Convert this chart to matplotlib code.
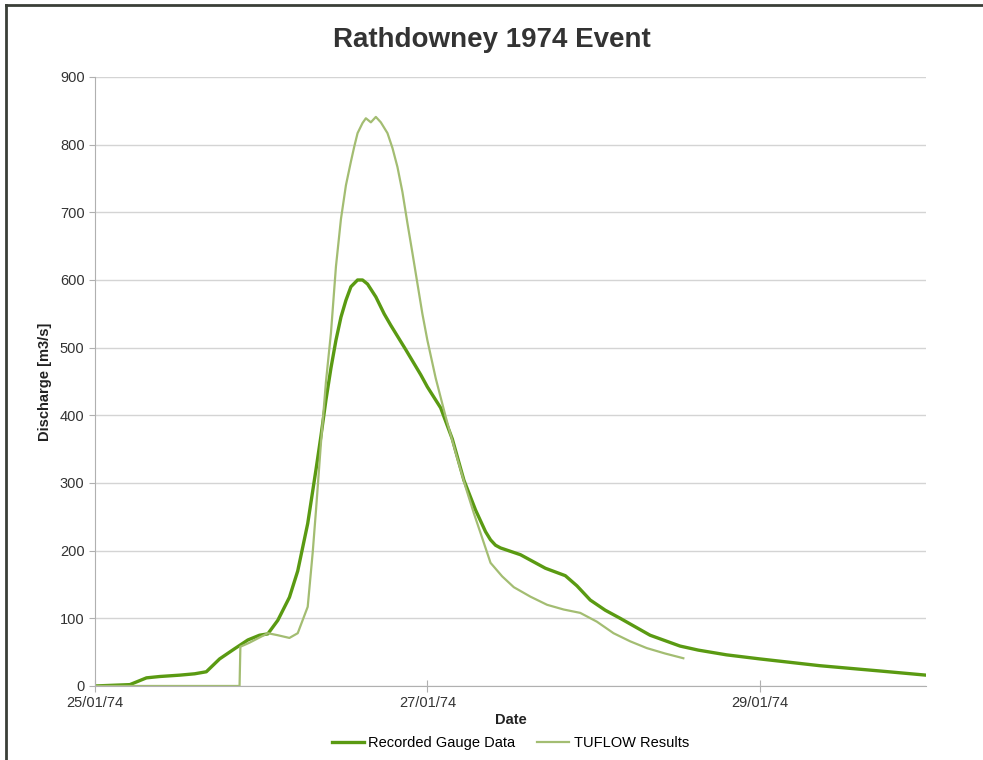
import numpy as np
import pandas as pd
import matplotlib
matplotlib.use("Agg")
import matplotlib.pyplot as plt
import matplotlib.dates as mdates
from matplotlib.lines import Line2D

plt.rcParams['font.family'] = ['Liberation Sans', 'DejaVu Sans']

# Data (days after 25/01/74 00:00, discharge m3/s)
gauge_days = [0, 0.21, 0.24, 0.31, 0.39, 0.51, 0.60, 0.67, 0.75, 0.84, 0.92, 0.99,
              1.04, 1.10, 1.17, 1.22, 1.28, 1.33, 1.36, 1.39, 1.42, 1.45, 1.48, 1.51,
              1.54, 1.58, 1.61, 1.64, 1.69, 1.74, 1.78, 1.87, 1.96, 2.00, 2.08, 2.15,
              2.22, 2.29, 2.35, 2.38, 2.41, 2.44, 2.56, 2.71, 2.83, 2.90, 2.98, 3.07,
              3.16, 3.34, 3.52, 3.63, 3.80, 4.00, 4.36, 4.73, 5.00]
gauge_q = [0, 2, 5, 12, 14, 16, 18, 21, 40, 55, 68, 75,
           77, 97, 131, 170, 240, 320, 370, 423, 470, 511, 545, 570,
           590, 600, 600, 594, 575, 550, 533, 497, 460, 442, 411, 365,
           304, 260, 228, 216, 208, 204, 194, 174, 163, 148, 127, 112,
           100, 75, 59, 53, 46, 40, 30, 22, 16]

tuflow_days = [0, 0.870, 0.875, 0.93, 1.04, 1.10, 1.17, 1.22, 1.28, 1.31, 1.33, 1.36,
               1.39, 1.42, 1.45, 1.48, 1.51, 1.54, 1.56, 1.58, 1.61, 1.63, 1.66, 1.69,
               1.72, 1.76, 1.79, 1.82, 1.85, 1.88, 1.91, 1.94, 1.97, 2.00, 2.05, 2.11,
               2.17, 2.23, 2.28, 2.32, 2.38, 2.45, 2.52, 2.62, 2.72, 2.82, 2.92, 3.02,
               3.12, 3.22, 3.32, 3.43, 3.54]
tuflow_q = [0, 0, 58, 64, 78, 75, 71, 78, 117, 197, 260, 360,
            450, 522, 620, 690, 740, 775, 797, 817, 832, 839, 833, 841,
            833, 817, 795, 767, 730, 684, 640, 595, 550, 511, 455, 398,
            345, 294, 255, 226, 182, 162, 146, 132, 120, 113, 108, 95,
            78, 66, 56, 48, 41]

start = pd.Timestamp("1974-01-25")
gauge_t = start + pd.to_timedelta(gauge_days, unit="D")
tuflow_t = start + pd.to_timedelta(tuflow_days, unit="D")

fig = plt.figure(figsize=(9.83, 7.6), dpi=100)
ax = fig.add_axes([0.0966, 0.0974, 0.8454, 0.8013])

ax.plot(gauge_t, gauge_q, color="#5a9a12", lw=2.4, label="Recorded Gauge Data",
        solid_joinstyle="round")
ax.plot(tuflow_t, tuflow_q, color="#a3bd72", lw=1.6, label="TUFLOW Results",
        solid_joinstyle="round")

ax.set_ylim(0, 900)
ax.set_yticks(np.arange(0, 901, 100))
ax.set_xlim(start, start + pd.Timedelta(days=5))
ax.set_xticks([start, start + pd.Timedelta(days=2), start + pd.Timedelta(days=4)])
ax.xaxis.set_major_formatter(mdates.DateFormatter("%d/%m/%y"))

ax.grid(axis="y", color="#d4d4d4", lw=1)
ax.set_axisbelow(True)
for s in ["top", "right"]:
    ax.spines[s].set_visible(False)
ax.spines["left"].set_color("#b0b0b0")
ax.spines["bottom"].set_color("#b0b0b0")
ax.tick_params(axis="both", colors="#b0b0b0", labelcolor="#333333", labelsize=10.5, length=4)
ax.tick_params(axis="x", direction="inout", length=8)

fig.text(0.5, 0.948, "Rathdowney 1974 Event", ha="center", va="center",
         fontsize=20, fontweight="bold", color="#333333")
ax.set_ylabel("Discharge [m3/s]", fontsize=10.5, fontweight="bold", color="#222222", labelpad=6)
ax.set_xlabel("Date", fontsize=10.5, fontweight="bold", color="#222222", labelpad=2)

ax.legend(loc="upper center", bbox_to_anchor=(0.5, -0.06), ncol=2, frameon=False,
          fontsize=10.5, handlelength=2.2, handletextpad=0.3, columnspacing=1.5)

# outer frame: only top and left edges visible
fig.add_artist(Line2D([0.006, 1.0], [0.994, 0.994], transform=fig.transFigure,
                      color="#3a3f38", lw=2))
fig.add_artist(Line2D([0.006, 0.006], [0.0, 0.994], transform=fig.transFigure,
                      color="#3a3f38", lw=2))

fig.savefig("out.png", dpi=100)
